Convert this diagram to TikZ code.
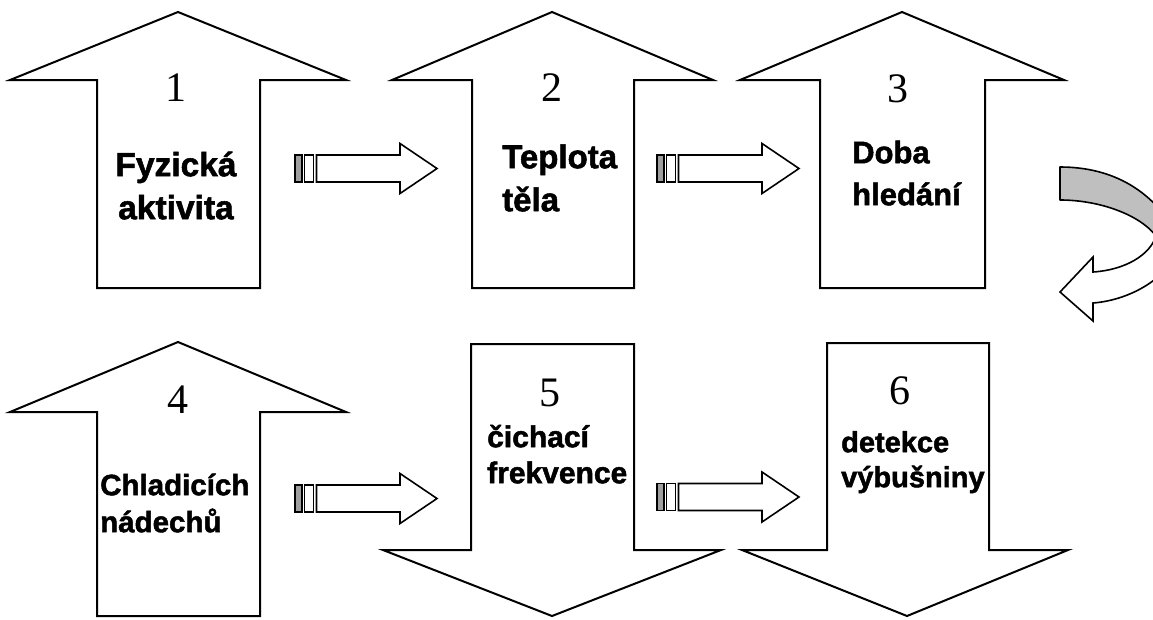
\documentclass[tikz,border=0pt]{standalone}
\usepackage{fontspec}
\newfontfamily\lblfont{Liberation Sans}[FakeBold=1.6]
\newfontfamily\numfont{Liberation Serif}
\begin{document}
\begin{tikzpicture}[x=1pt,y=-1pt]
\tikzset{
  blockarrow/.style={draw=black, line width=2pt, line join=miter, fill=white},
  num/.style={font=\numfont\fontsize{42}{42}\selectfont, inner sep=0pt, anchor=center},
  lbl/.style 2 args={font=\lblfont\bfseries\fontsize{#1}{#2}\selectfont,
    inner sep=0pt, align=left},
  flow/.pic={
    \draw[line width=1.4pt, fill=gray!75] (0,-13.5) rectangle (7,13.5);
    \draw[line width=1.4pt, fill=white] (9.5,-13.5) rectangle (18.5,13.5);
    \draw[line width=1.6pt, line join=miter, fill=white]
      (21.5,-13.5) -- (105,-13.5) -- (105,-25) -- (142,0)
      -- (105,25) -- (105,13.5) -- (21.5,13.5) -- cycle;
  }
}
\useasboundingbox (0,0) rectangle (1153,619);
\fill[white] (0,0) rectangle (1153,619);

% upper row: three arrows pointing up
\draw[blockarrow] (10,80) -- (178,12) -- (346,80) -- (260,80) -- (260,288)
  -- (97,288) -- (97,80) -- cycle;
\draw[blockarrow] (392,80) -- (552,12) -- (713,80) -- (634,80) -- (634,288)
  -- (472,288) -- (472,80) -- cycle;
\draw[blockarrow] (740,80) -- (902,12) -- (1064,80) -- (985,80) -- (985,288)
  -- (820,288) -- (820,80) -- cycle;

% lower row: one arrow up, two arrows down
\draw[blockarrow] (10,412) -- (178,342) -- (346,412) -- (260,412) -- (260,616)
  -- (97,616) -- (97,412) -- cycle;
\draw[blockarrow] (471,344) -- (634,344) -- (634,550) -- (721,550) -- (552,616)
  -- (383,550) -- (471,550) -- cycle;
\draw[blockarrow] (827,343) -- (989,343) -- (989,550) -- (1068,550) -- (907,616)
  -- (742,550) -- (827,550) -- cycle;

% step numbers
\node[num] (n1) at (176,88) {1};
\node[num] (n2) at (552,88) {2};
\node[num] (n3) at (898,89) {3};
\node[num] (n4) at (178,400) {4};
\node[num] (n5) at (550,393) {5};
\node[num] (n6) at (900,391) {6};

% step labels (a strut fixes the distance from the top to the first baseline)
\node[lbl={33.5}{43}, align=center, anchor=north] (t1) at (176,146)
  {\rule{0pt}{30pt}Fyzická\\aktivita};
\node[lbl={33}{43}, anchor=north west] (t2) at (502,138)
  {\rule{0pt}{30pt}Teplota\\těla};
\node[lbl={31}{42}, anchor=north west] (t3) at (852,133)
  {\rule{0pt}{30pt}Doba\\hledání};
\node[lbl={29.5}{37}, anchor=north west] (t4) at (100,465)
  {\rule{0pt}{30pt}Chladicích\\nádechů};
\node[lbl={30}{36}, anchor=north west] (t5) at (487,417)
  {\rule{0pt}{30pt}čichací\\frekvence};
\node[lbl={29}{35}, anchor=north west] (t6) at (841,422)
  {\rule{0pt}{30pt}detekce\\výbušniny};

% hollow flow arrows between the steps
\coordinate (f12) at (295,168.5);
\coordinate (f23) at (657,168.5);
\coordinate (f45) at (295,498.5);
\coordinate (f56) at (657,497);
\pic at (f12) {flow};
\pic at (f23) {flow};
\pic at (f45) {flow};
\pic at (f56) {flow};

% curved arrow leading from the upper row to the lower row
\begin{scope}
  \clip (0,0) rectangle (1153,619);
  \draw[line width=1.6pt, fill=gray!50, line join=round]
    (1060,167) .. controls (1112,167) and (1155,190) .. (1180,240)
    -- (1156,236) .. controls (1140,215) and (1100,200) .. (1060,200) -- cycle;
  \draw[line width=1.6pt, fill=white, line join=miter]
    (1156,236) .. controls (1150,255) and (1125,270) .. (1093,272)
    -- (1093,257) -- (1060,292) -- (1093,321) -- (1093,303)
    .. controls (1132,300) and (1175,275) .. (1180,240) -- cycle;
\end{scope}
\end{tikzpicture}
\end{document}
